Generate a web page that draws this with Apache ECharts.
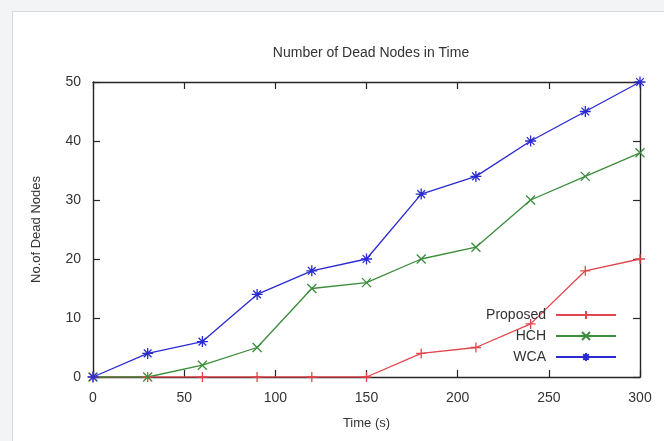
<!DOCTYPE html>
<html>
<head>
<meta charset="utf-8">
<title>Number of Dead Nodes in Time</title>
<script src="https://cdn.jsdelivr.net/npm/echarts@6/dist/echarts.min.js"></script>
<style>
  html, body { margin: 0; padding: 0; background: #f3f4f6; }
  #chart { width: 664px; height: 441px; }
</style>
</head>
<body>
<div id="chart"></div>
<script>
// Simulation time steps (s)
const times = [0, 30, 60, 90, 120, 150, 180, 210, 240, 270, 300];
// Dead node counts per protocol
const proposed = [0, 0, 0, 0, 0, 0, 4, 5, 9, 18, 20];
const hch      = [0, 0, 2, 5, 15, 16, 20, 22, 30, 34, 38];
const wca      = [0, 4, 6, 14, 18, 20, 31, 34, 40, 45, 50];
const xTicks = [0, 50, 100, 150, 200, 250, 300];
const yTicks = [0, 10, 20, 30, 40, 50];

// Stroked marker glyphs: plus, cross and asterisk
const PLUS  = 'path://M5,0L5,10M0,5L10,5';
const CROSS = 'path://M0,0L10,10M10,0L0,10';
const STAR  = 'path://M5,0L5,10M0,5L10,5M1.5,1.5L8.5,8.5M8.5,1.5L1.5,8.5';

const RED = '#e2454c', GREEN = '#3b8c3b', BLUE = '#2a2ad2';
const FONT = 'Liberation Sans, Arial, sans-serif';

function pairs(ys) { return times.map((t, i) => [t, ys[i]]); }

function lineSeries(name, ys, color, symbol, size) {
  return {
    name: name,
    type: 'line',
    data: pairs(ys),
    symbol: symbol,
    symbolSize: size,
    showAllSymbol: true,
    lineStyle: { color: color, width: 1.3 },
    itemStyle: { color: color, borderColor: color, borderWidth: 1.3 },
    emphasis: { disabled: true },
    z: 3
  };
}

const chart = echarts.init(document.getElementById('chart'), null, { renderer: 'canvas' });

// Shared frame styling: dark border with inward ticks on every side
function frameAxis(extra) {
  return Object.assign({
    axisLine: { show: true, onZero: false, lineStyle: { color: '#262626', width: 1.4 } },
    axisTick: { show: true, inside: true, length: 7, lineStyle: { color: '#262626', width: 1.2 } },
    splitLine: { show: false }
  }, extra);
}

chart.setOption({
  animation: false,
  backgroundColor: '#f3f4f6',
  graphic: [{
    type: 'rect',
    left: 12, top: 11,
    shape: { width: 664, height: 440 },
    style: { fill: '#ffffff', stroke: '#d9dadc', lineWidth: 1 },
    z: -10
  }],
  title: {
    text: 'Number of Dead Nodes in Time',
    left: 366, top: 41,
    textAlign: 'center',
    textStyle: { fontFamily: FONT, fontSize: 14, fontWeight: 'normal', color: '#333' }
  },
  grid: { left: 93, right: 24, top: 82, bottom: 64, containLabel: false },
  legend: {
    orient: 'vertical',
    right: 42, top: 303,
    align: 'right',
    itemWidth: 60, itemHeight: 10, itemGap: 7,
    textStyle: { fontFamily: FONT, fontSize: 14, color: '#333', padding: [0, 5, 0, 0] },
    data: ['Proposed', 'HCH', 'WCA']
  },
  xAxis: [
    frameAxis({
      type: 'value', position: 'bottom',
      min: 0, max: 300, interval: 50,
      name: 'Time (s)', nameLocation: 'middle', nameGap: 40,
      nameTextStyle: { fontFamily: FONT, fontSize: 13, color: '#333' },
      axisLabel: {
        margin: 14, fontFamily: FONT, fontSize: 14, color: '#333',
        customValues: xTicks
      }
    }),
    frameAxis({
      type: 'value', position: 'top',
      min: 0, max: 300, interval: 50,
      axisLabel: { show: false }
    })
  ],
  yAxis: [
    frameAxis({
      type: 'value', position: 'left',
      min: 0, max: 50, interval: 10,
      name: 'No.of Dead Nodes', nameLocation: 'middle', nameGap: 50,
      nameTextStyle: { fontFamily: FONT, fontSize: 13, color: '#333' },
      axisLabel: {
        margin: 12, fontFamily: FONT, fontSize: 14, color: '#333',
        customValues: yTicks
      }
    }),
    frameAxis({
      type: 'value', position: 'right',
      min: 0, max: 50, interval: 10,
      axisLabel: { show: false }
    })
  ],
  series: [
    lineSeries('Proposed', proposed, RED, PLUS, 10),
    lineSeries('HCH', hch, GREEN, CROSS, 9),
    lineSeries('WCA', wca, BLUE, STAR, 11)
  ]
});
</script>
</body>
</html>
